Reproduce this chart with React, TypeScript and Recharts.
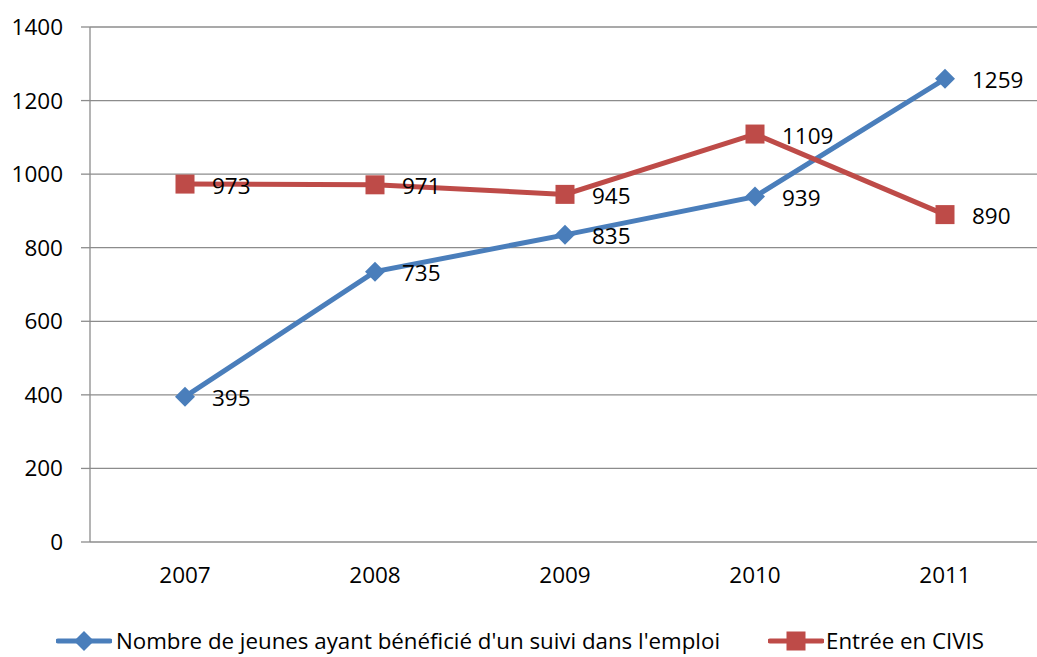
import React from 'react';
import { LineChart, Line, XAxis, YAxis, CartesianGrid, Legend } from 'recharts';

const years = ['2007', '2008', '2009', '2010', '2011'];
const suiviEmploi = [395, 735, 835, 939, 1259];
const entreeCivis = [973, 971, 945, 1109, 890];
const yTicks = [0, 200, 400, 600, 800, 1000, 1200, 1400];
const seriesNames = ["Nombre de jeunes ayant bénéficié d'un suivi dans l'emploi", 'Entrée en CIVIS'];
const boundaryTicks = [0, 1, 2, 3, 4, 5];

const data = years.map((y, i) => ({ year: y, a: suiviEmploi[i], b: entreeCivis[i] }));

const FONT = '"Open Sans", sans-serif';
const BLUE = '#4A7EBB';
const RED = '#BE4B48';
const GRID = '#8C8C8C';

const Diamond = (props: any) => {
  const { cx, cy } = props;
  if (cx == null || cy == null) return null;
  const r = 10;
  return <path d={`M${cx},${cy - r}L${cx + r},${cy}L${cx},${cy + r}L${cx - r},${cy}Z`} fill={BLUE} stroke="none" />;
};
const Square = (props: any) => {
  const { cx, cy } = props;
  if (cx == null || cy == null) return null;
  const s = 19;
  return <rect x={cx - s / 2} y={cy - s / 2} width={s} height={s} fill={RED} stroke="none" />;
};

const ValueLabel = (props: any) => {
  const { x, y, value } = props;
  return (
    <text x={x + 27} y={y + 1} dominantBaseline="central" textAnchor="start" fontSize={22.5} fontFamily={FONT} fill="#000">
      {value}
    </text>
  );
};

const LegendContent = () => (
  <div style={{ display: 'flex', justifyContent: 'center', alignItems: 'center', paddingTop: 18, fontFamily: FONT, fontSize: 22.3, color: '#000', whiteSpace: 'nowrap' }}>
    <svg width={56} height={22} style={{ marginRight: 4 }}>
      <line x1={2} y1={11} x2={54} y2={11} stroke={BLUE} strokeWidth={5} strokeLinecap="round" />
      <path d="M28,1L38,11L28,21L18,11Z" fill={BLUE} />
    </svg>
    <span style={{ marginRight: 48 }}>{seriesNames[0]}</span>
    <svg width={56} height={22} style={{ marginRight: 2 }}>
      <line x1={2} y1={11} x2={54} y2={11} stroke={RED} strokeWidth={5} strokeLinecap="round" />
      <rect x={18.5} y={1.5} width={19} height={19} fill={RED} />
    </svg>
    <span>{seriesNames[1]}</span>
  </div>
);

export default function App() {
  return (
    <div style={{ position: 'absolute', left: 0, top: 0, width: 1037, height: 657, overflow: 'hidden', background: '#fff' }}>
      <LineChart width={1040} height={657} data={data} margin={{ top: 27, right: 0, bottom: 0, left: 0 }}>
        <CartesianGrid horizontal vertical={false} stroke={GRID} strokeWidth={1.3} />
        <XAxis
          xAxisId="bound"
          type="number"
          domain={[0, 5]}
          ticks={boundaryTicks}
          tick={false}
          height={0}
          tickSize={10}
          axisLine={{ stroke: GRID, strokeWidth: 1.3 }}
          tickLine={{ stroke: GRID, strokeWidth: 1.3 }}
          allowDataOverflow
        />
        <XAxis
          dataKey="year"
          scale="band"
          height={65}
          axisLine={false}
          tickLine={false}
          tickSize={0}
          tickMargin={25}
          tick={{ fontSize: 22.5, fontFamily: FONT, fill: '#000' }}
        />
        <YAxis
          width={90}
          domain={[0, 1400]}
          ticks={yTicks}
          tickSize={9}
          tickMargin={18}
          axisLine={{ stroke: GRID, strokeWidth: 1.3 }}
          tickLine={{ stroke: GRID, strokeWidth: 1.3 }}
          tick={{ fontSize: 22.5, fontFamily: FONT, fill: '#000' }}
          interval={0}
        />
        <Legend verticalAlign="bottom" height={50} content={<LegendContent />} />
        <Line dataKey="a" name={seriesNames[0]} stroke={BLUE} strokeWidth={5} dot={<Diamond />} activeDot={false} label={<ValueLabel />} isAnimationActive={false} />
        <Line dataKey="b" name={seriesNames[1]} stroke={RED} strokeWidth={5} dot={<Square />} activeDot={false} label={<ValueLabel />} isAnimationActive={false} />
      </LineChart>
    </div>
  );
}
